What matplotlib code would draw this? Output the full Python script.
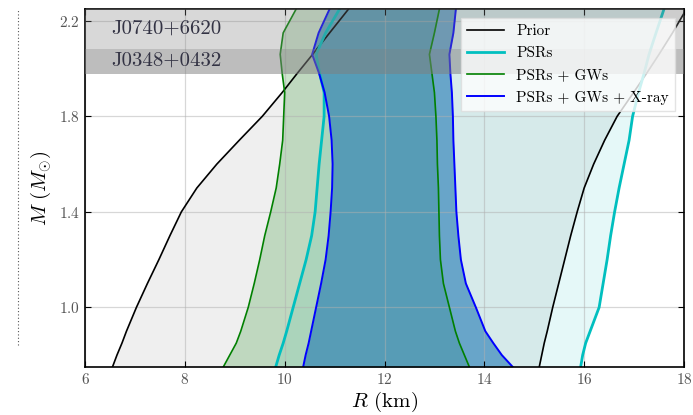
import numpy as np
import matplotlib
matplotlib.use('Agg')
from matplotlib import pyplot as plt
from matplotlib.lines import Line2D

plt.rcParams['font.family'] = 'cmr10'
plt.rcParams['mathtext.fontset'] = 'cm'
plt.rcParams['axes.formatter.use_mathtext'] = True

# %% Mass-radius contours (R in km at each mass M)

mass = [0.75, 0.8, 0.85, 0.9, 1.0, 1.1, 1.2, 1.3, 1.4, 1.5, 1.6, 1.7, 1.8, 1.9, 1.98, 2.06, 2.15, 2.25]

prior_lo = [6.55, 6.64, 6.74, 6.83, 7.03, 7.25, 7.48, 7.70, 7.93, 8.24, 8.64, 9.09, 9.55, 9.95, 10.25, 10.56, 10.90, 11.28]
prior_hi = [15.10, 15.15, 15.20, 15.26, 15.37, 15.49, 15.61, 15.73, 15.86, 16.00, 16.19, 16.41, 16.66, 16.99, 17.25, 17.50, 17.77, 18.05]

psr_lo = [9.82, 9.89, 9.97, 10.04, 10.17, 10.30, 10.43, 10.54, 10.61, 10.65, 10.69, 10.74, 10.79, 10.79, 10.70, 10.63, 10.82, 11.10]
psr_hi = [15.93, 15.97, 16.03, 16.12, 16.30, 16.38, 16.46, 16.53, 16.61, 16.70, 16.80, 16.90, 16.97, 17.09, 17.20, 17.30, 17.44, 17.60]

gw_lo = [8.77, 8.90, 9.03, 9.12, 9.27, 9.39, 9.50, 9.60, 9.72, 9.83, 9.90, 9.96, 9.98, 10.00, 9.95, 9.91, 9.97, 10.23]
gw_hi = [13.70, 13.60, 13.50, 13.42, 13.30, 13.18, 13.12, 13.10, 13.09, 13.08, 13.06, 13.05, 13.03, 13.00, 12.95, 12.90, 13.00, 13.10]

xray_lo = [10.37, 10.42, 10.48, 10.53, 10.63, 10.73, 10.82, 10.88, 10.92, 10.95, 10.96, 10.94, 10.89, 10.80, 10.69, 10.55, 10.68, 10.90]
xray_hi = [14.57, 14.35, 14.18, 14.02, 13.83, 13.63, 13.53, 13.48, 13.44, 13.42, 13.40, 13.38, 13.37, 13.35, 13.32, 13.30, 13.38, 13.43]

# pulsar mass bands (lower, upper)
j0740 = (1.977, 2.30)
j0348 = (1.977, 2.082)

# %% Plot

fig = plt.figure(figsize=(6.93, 4.15), dpi=100)
ax = fig.add_axes([0.1227, 0.1157, 0.8643, 0.8626])

ax.fill_betweenx(mass, prior_lo, prior_hi, color='gray', alpha=0.12, lw=0)
ax.fill_betweenx(mass, psr_lo, psr_hi, color='c', alpha=0.1, lw=0)
ax.fill_betweenx(mass, gw_lo, gw_hi, color='g', alpha=0.2, lw=0)
ax.fill_betweenx(mass, xray_lo, xray_hi, color='C0', alpha=0.6, lw=0)

ax.plot(prior_lo, mass, color='k', lw=1.2, label='Prior')
ax.plot(prior_hi, mass, color='k', lw=1.2)
ax.plot(psr_lo, mass, color='c', lw=2.0, label='PSRs')
ax.plot(psr_hi, mass, color='c', lw=2.0)
ax.plot(gw_lo, mass, color='g', lw=1.2, label='PSRs + GWs')
ax.plot(gw_hi, mass, color='g', lw=1.2)
ax.plot(xray_lo, mass, color='b', lw=1.4, label='PSRs + GWs + X-ray')
ax.plot(xray_hi, mass, color='b', lw=1.4)

ax.axhspan(*j0740, color='gray', alpha=0.3, lw=0, zorder=3)
ax.axhspan(*j0348, color='gray', alpha=0.3, lw=0, zorder=3)
ax.text(6.53, 2.166, 'J0740+6620', fontsize=15, color='#333344', va='center', zorder=4)
ax.text(6.53, 2.035, 'J0348+0432', fontsize=15, color='#333344', va='center', zorder=4)

ax.set_xlim(6, 18)
ax.set_ylim(0.75, 2.25)
ax.set_xticks(np.arange(6, 19, 2))
ax.set_yticks([1.0, 1.4, 1.8, 2.2])
ax.tick_params(direction='in', top=True, right=True, length=4, labelsize=11,
               labelcolor='#555555')
ax.grid(True, color='#b0b0b0', alpha=0.5, lw=0.9)
for s in ax.spines.values():
    s.set_linewidth(1.2)

ax.set_xlabel(r'$R$ (km)', fontsize=15, labelpad=2)
ax.set_ylabel(r'$M\ (M_{\odot})$', fontsize=15, labelpad=4)

leg = ax.legend(loc='upper right', fontsize=11, framealpha=0.8, fancybox=False,
                edgecolor='#dddddd', handlelength=2.4, borderaxespad=0.6,
                labelspacing=0.55)
leg.set_zorder(5)

# dotted edge on the left
fig.add_artist(Line2D([0.026, 0.026], [0.169, 0.976], transform=fig.transFigure,
                      color='#555555', lw=0.8, ls=(0, (1, 2))))

fig.savefig('out.png', dpi=100)
